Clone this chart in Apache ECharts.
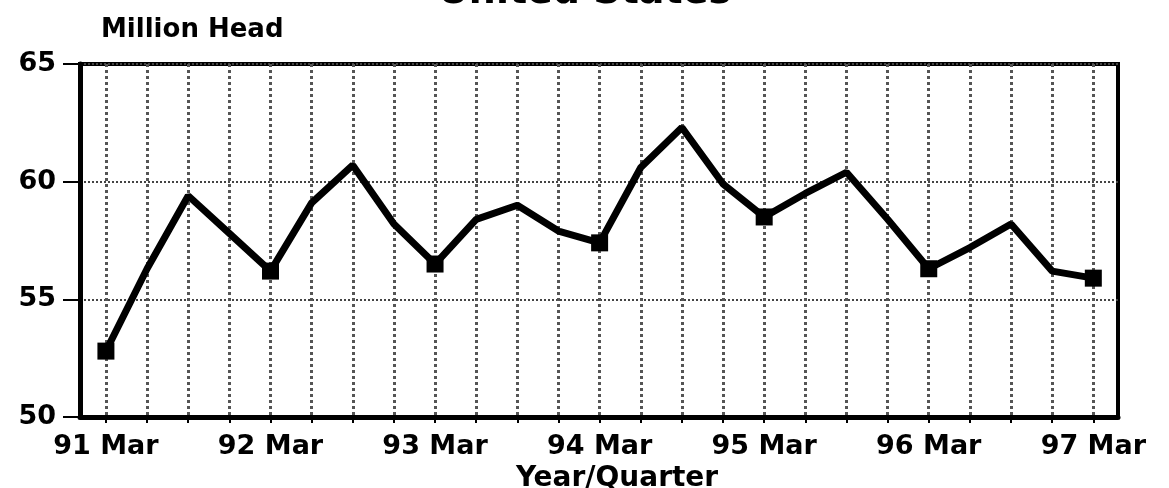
<!DOCTYPE html>
<html>
<head>
<meta charset="utf-8">
<script src="https://cdn.jsdelivr.net/npm/echarts@6/dist/echarts.min.js"></script>
<style>
  html, body { margin: 0; padding: 0; background: #fff; }
  #chart { width: 1169px; height: 488px; }
</style>
</head>
<body>
<div id="chart"></div>
<script>
// quarters from 91 Mar to 97 Mar
var quarters = ['91 Mar','91 Jun','91 Sep','91 Dec','92 Mar','92 Jun','92 Sep','92 Dec',
    '93 Mar','93 Jun','93 Sep','93 Dec','94 Mar','94 Jun','94 Sep','94 Dec',
    '95 Mar','95 Jun','95 Sep','95 Dec','96 Mar','96 Jun','96 Sep','96 Dec','97 Mar'];
var headCount = [52.8, 56.3, 59.4, 57.8, 56.2, 59.1, 60.7, 58.2,
    56.5, 58.4, 59.0, 57.9, 57.4, 60.6, 62.3, 59.9,
    58.5, 59.5, 60.4, 58.4, 56.3, 57.2, 58.2, 56.2, 55.9];
var yTicks = [50, 55, 60, 65];
var labelIdx = [0, 4, 8, 12, 16, 20, 24];

var chart = echarts.init(document.getElementById('chart'));
var font = 'DejaVu Sans';

var seriesData = [];
for (var i = 0; i < headCount.length; i++) {
    seriesData.push({
        value: [i, headCount[i]],
        symbol: quarters[i].indexOf('Mar') > 0 ? 'rect' : 'none'
    });
}
var allIdx = [];
for (var k = 0; k < quarters.length; k++) allIdx.push(k);

var option = {
    animation: false,
    backgroundColor: '#fff',
    title: [
        {
            text: 'United States', left: 'center', top: -31,
            textStyle: { fontFamily: font, fontWeight: 'bold', fontSize: 38, color: '#000' }
        },
        {
            text: 'Million Head', left: 96, top: 12,
            textStyle: { fontFamily: font, fontWeight: 'bold', fontSize: 26, color: '#000' }
        }
    ],
    grid: {
        left: 80, right: 51, top: 64, bottom: 71,
        outerBoundsMode: 'none',
        containLabel: false,
        show: true, borderColor: '#000', borderWidth: 4
    },
    xAxis: {
        type: 'value',
        min: -0.63, max: 24.6,
        name: 'Year/Quarter',
        nameLocation: 'middle',
        nameGap: 48,
        nameTextStyle: { fontFamily: font, fontWeight: 'bold', fontSize: 28, color: '#000', padding: [0, 0, 0, 36] },
        axisLine: { show: true, onZero: false, lineStyle: { color: '#000', width: 5 } },
        axisTick: { show: true, length: 6, customValues: allIdx, lineStyle: { color: '#000', width: 2 } },
        axisLabel: {
            customValues: labelIdx,
            margin: 16,
            fontFamily: font, fontWeight: 'bold', fontSize: 27, color: '#000',
            formatter: function (v) { return quarters[Math.round(v)] || ''; }
        },
        splitLine: { show: true, lineStyle: { color: '#555', width: 3, type: 'dotted' } }
    },
    yAxis: {
        type: 'value',
        min: 50, max: 65, interval: 5,
        axisLine: { show: true, onZero: false, lineStyle: { color: '#000', width: 5 } },
        axisTick: { show: true, length: 17, lineStyle: { color: '#000', width: 2 } },
        axisLabel: {
            margin: 24,
            fontFamily: font, fontWeight: 'bold', fontSize: 27, color: '#000',
            formatter: function (v) { return yTicks.indexOf(v) >= 0 ? String(v) : ''; }
        },
        splitLine: { show: true, lineStyle: { color: '#444', width: 2, type: 'dotted' } }
    },
    series: [{
        type: 'line',
        data: seriesData,
        symbolSize: 17,
        lineStyle: { color: '#000', width: 7 },
        itemStyle: { color: '#000' }
    }]
};
chart.setOption(option);
</script>
</body>
</html>
